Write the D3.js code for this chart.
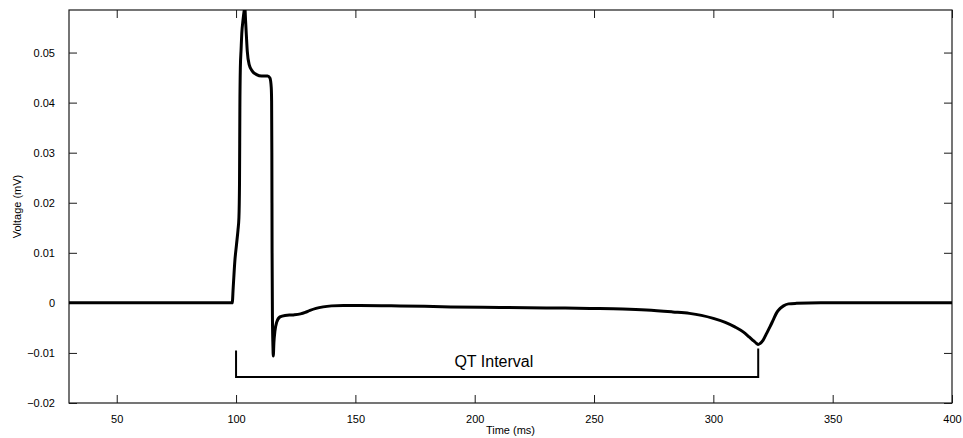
<!DOCTYPE html>
<html>
<head>
<meta charset="utf-8">
<script src="https://cdn.jsdelivr.net/npm/d3@7"></script>
<style>
  html, body { margin: 0; padding: 0; background: #fff; }
  svg { display: block; }
  text { font-family: "Liberation Sans", Arial, Helvetica, sans-serif; fill: #000; }
</style>
</head>
<body>
<svg id="chart" width="963" height="438"></svg>
<script>
// ---- Data ----
const timeMs = [
  30, 98.4, 98.8, 99.5, 100.2, 100.8, 101.2, 101.45, 101.6, 101.8, 102.1, 102.4, 102.9, 103.7,
  104.0, 104.3, 104.7, 105.5, 106.8, 108.6, 110.7, 113.2, 114.2, 114.75, 114.9, 115.0, 115.1,
  115.25, 115.45, 115.6, 115.85, 116.3, 117.0, 118.4, 120.5, 124, 127, 129, 131, 133.5,
  136.5, 140, 145, 152, 168.7, 190, 210.6, 230, 248.3, 262, 272, 283, 290, 295, 300,
  305, 309, 312.5, 315, 316.9, 318.1, 318.8, 319.6, 320.8, 322.2, 323.7, 325.1, 326.5,
  328.0, 329.4, 331.5, 334.8, 345, 400
];
const voltage = [
  0, 0, 0.0030, 0.0084, 0.0117, 0.0145, 0.0170, 0.0240, 0.0390, 0.0470, 0.0505, 0.0538, 0.0564, 0.0588,
  0.0563, 0.0536, 0.0503, 0.0476, 0.0463, 0.0456, 0.0453, 0.0453, 0.0449, 0.0430, 0.0403, 0.0300, 0.0100,
  -0.0030, -0.0085, -0.0106, -0.0080, -0.0056, -0.0039, -0.0028, -0.0025, -0.0024, -0.0022, -0.0019, -0.0015, -0.0011,
  -0.0008, -0.0006, -0.0005, -0.0005, -0.0006, -0.0008, -0.0009, -0.0010, -0.0011, -0.0012, -0.0014, -0.0018, -0.0021, -0.0025, -0.0031,
  -0.0039, -0.0048, -0.0058, -0.0068, -0.0076, -0.0081, -0.0083, -0.0081, -0.0075, -0.0062, -0.0048, -0.0034, -0.0020,
  -0.0011, -0.0006, -0.0002, -0.0001, 0, 0
];
const xTicks = [50, 100, 150, 200, 250, 300, 350, 400];
const yTicks = [-0.02, -0.01, 0, 0.01, 0.02, 0.03, 0.04, 0.05];
const xDomain = [30, 400];
const yDomain = [-0.02, 0.0585];
// QT interval bracket: start/end times, bracket level and the tops of the two legs
const qtStart = 100, qtEnd = 318.8;
const qtLevel = -0.0148, qtLeftTop = -0.0095, qtRightTop = -0.0091;
const qtLabel = "QT Interval", qtLabelTime = 191.5, qtLabelV = -0.0128;
const xLabel = "Time (ms)", yLabel = "Voltage (mV)";

// ---- Layout ----
const svg = d3.select("#chart");
const L = 69, R = 952, T = 10, B = 403;
const x = d3.scaleLinear().domain(xDomain).range([L, R]);
const y = d3.scaleLinear().domain(yDomain).range([B, T]);
const tickLen = 8;
const fmtY = v => (v < 0 ? "\u2212" : "") + (v === 0 ? "0" : d3.format(".2f")(Math.abs(v)));

svg.append("defs").append("clipPath").attr("id", "plotclip")
  .append("rect").attr("x", L).attr("y", T).attr("width", R - L).attr("height", B - T);

// Axes with inward ticks on all four sides
const axisColor = "#1a1a1a";
function styleAxis(g) {
  g.select(".domain").remove();
  g.selectAll(".tick line").attr("stroke", axisColor).attr("stroke-width", 1);
  g.selectAll(".tick text").style("font-size", "11px").style("font-family", "'Liberation Sans', Arial, sans-serif").attr("fill", "#000");
}
const gxB = svg.append("g").attr("transform", `translate(0,${B})`)
  .call(d3.axisBottom(x).tickValues(xTicks).tickSizeInner(-tickLen).tickSizeOuter(0).tickPadding(12).tickFormat(d3.format("d")));
styleAxis(gxB);
const gxT = svg.append("g").attr("transform", `translate(0,${T})`)
  .call(d3.axisTop(x).tickValues(xTicks).tickSizeInner(-tickLen).tickSizeOuter(0).tickFormat(""));
styleAxis(gxT);
const gyL = svg.append("g").attr("transform", `translate(${L},0)`)
  .call(d3.axisLeft(y).tickValues(yTicks).tickSizeInner(-tickLen).tickSizeOuter(0).tickPadding(14).tickFormat(fmtY));
styleAxis(gyL);
const gyR = svg.append("g").attr("transform", `translate(${R},0)`)
  .call(d3.axisRight(y).tickValues(yTicks).tickSizeInner(-tickLen).tickSizeOuter(0).tickFormat(""));
styleAxis(gyR);

// Frame box
svg.append("rect").attr("x", L).attr("y", T).attr("width", R - L).attr("height", B - T)
  .attr("fill", "none").attr("stroke", axisColor).attr("stroke-width", 1.2);

// Axis labels
svg.append("text").attr("x", (L + R) / 2).attr("y", 434).attr("text-anchor", "middle")
  .style("font-size", "11px").text(xLabel);
svg.append("text").attr("transform", `translate(21,${(T + B) / 2}) rotate(-90)`).attr("text-anchor", "middle")
  .style("font-size", "11px").text(yLabel);

// ECG curve
const pts = timeMs.map((t, i) => [t, voltage[i]]);
const line = d3.line().x(d => x(d[0])).y(d => y(d[1])).curve(d3.curveMonotoneX);
svg.append("path").datum(pts).attr("d", line).attr("clip-path", "url(#plotclip)")
  .attr("fill", "none").attr("stroke", "#000").attr("stroke-width", 3).attr("stroke-linejoin", "round");

// QT interval bracket
const bracket = [[qtStart, qtLeftTop], [qtStart, qtLevel], [qtEnd, qtLevel], [qtEnd, qtRightTop]];
svg.append("path").datum(bracket).attr("d", d3.line().x(d => x(d[0])).y(d => y(d[1])))
  .attr("fill", "none").attr("stroke", "#000").attr("stroke-width", 2);
svg.append("text").attr("x", x(qtLabelTime)).attr("y", y(qtLabelV)).attr("text-anchor", "start")
  .style("font-size", "16px").text(qtLabel);
</script>
</body>
</html>
